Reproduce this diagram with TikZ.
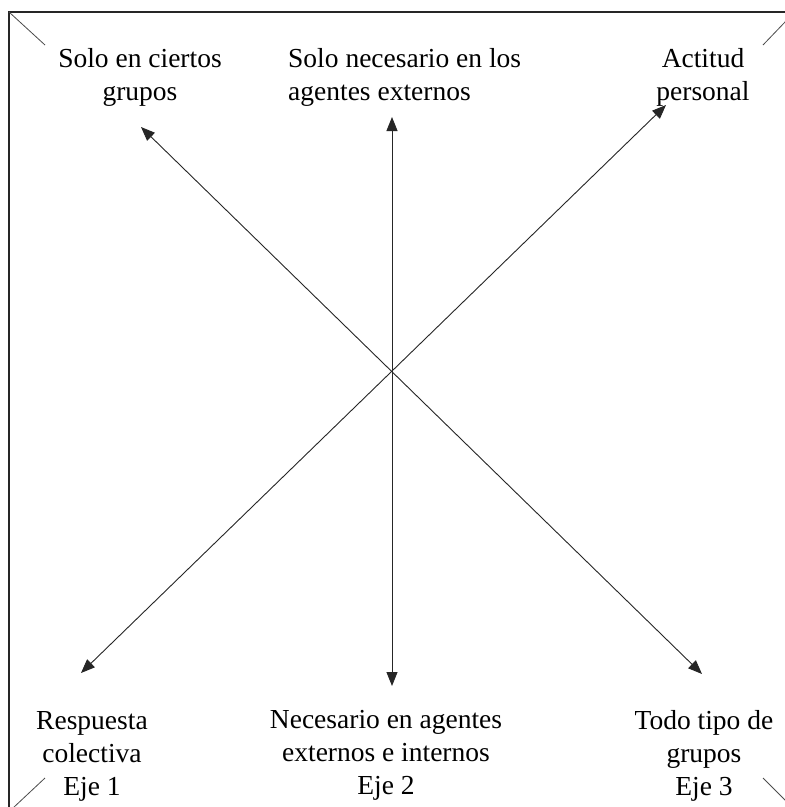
\documentclass[tikz,border=0pt]{standalone}
\usepackage{fontspec}
\setmainfont{Liberation Serif}
\usetikzlibrary{arrows.meta}
\begin{document}
\begin{tikzpicture}[x=1pt,y=-1pt,
  lbl/.style={font=\fontsize{27.5}{33}\selectfont, inner sep=0pt, anchor=base, align=center},
  axis/.style={draw=black!85, line width=0.9pt, {Triangle[length=14pt,width=11pt]}-{Triangle[length=14pt,width=11pt]}},
  frameline/.style={draw=black!85, line width=1.4pt},
  corner/.style={draw=black!70, line width=0.8pt}]
\clip (0,0) rectangle (785,807);
\fill[white] (0,0) rectangle (785,807);
% frame
\draw[frameline] (9,830) -- (9,12) -- (800,12);
% corner diagonals
\draw[corner] (9,12) -- (45,45);
\draw[corner] (786,21) -- (763,45);
\draw[corner] (13,808) -- (45,778);
\draw[corner] (763,778) -- (786,801);
% labels (anchor = baseline of last line)
\node[lbl] (tl) at (140,100) {Solo en ciertos\\grupos};
\node[lbl, anchor=base west, align=left] (tc) at (288,100) {Solo necesario en los\\agentes externos};
\node[lbl] (tr) at (703,100) {Actitud\\personal};
\node[lbl] (bl) at (92,795) {Respuesta\\colectiva\\Eje 1};
\node[lbl] (bc) at (386,794) {Necesario en agentes\\externos e internos\\Eje 2};
\node[lbl] (br) at (704,795) {Todo tipo de\\grupos\\Eje 3};
% arrow tips
\coordinate (a1) at (81,673);
\coordinate (a2) at (666,105);
\coordinate (b1) at (392,117);
\coordinate (b2) at (392,686);
\coordinate (c1) at (141,127);
\coordinate (c2) at (702,674);
\draw[axis] (a1) -- (a2);
\draw[axis] (b1) -- (b2);
\draw[axis] (c1) -- (c2);
\end{tikzpicture}
\end{document}
